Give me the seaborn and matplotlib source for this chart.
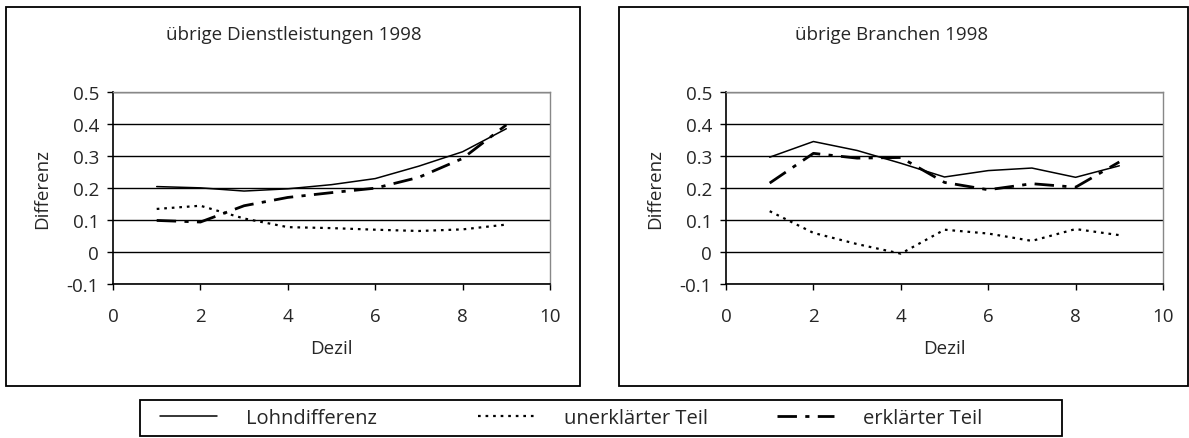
import numpy as np
import pandas as pd
import matplotlib.pyplot as plt
import seaborn as sns
from matplotlib.patches import Rectangle

# --- data ---
dezil = [1, 2, 3, 4, 5, 6, 7, 8, 9]

dl_lohn = [0.204, 0.200, 0.190, 0.197, 0.210, 0.229, 0.268, 0.313, 0.385]
dl_unerkl = [0.134, 0.144, 0.104, 0.077, 0.074, 0.069, 0.065, 0.070, 0.085]
dl_erkl = [0.098, 0.093, 0.144, 0.170, 0.185, 0.199, 0.233, 0.292, 0.397]

br_lohn = [0.296, 0.345, 0.317, 0.277, 0.234, 0.254, 0.262, 0.233, 0.269]
br_unerkl = [0.127, 0.059, 0.024, -0.006, 0.069, 0.057, 0.034, 0.071, 0.052]
br_erkl = [0.215, 0.308, 0.293, 0.295, 0.217, 0.194, 0.213, 0.202, 0.281]

titles = ["übrige Dienstleistungen 1998", "übrige Branchen 1998"]
series_names = ["Lohndifferenz", "unerklärter Teil", "erklärter Teil"]
yticks = [-0.1, 0, 0.1, 0.2, 0.3, 0.4, 0.5]
ytick_labels = ["-0.1", "0", "0.1", "0.2", "0.3", "0.4", "0.5"]
xticks = [0, 2, 4, 6, 8, 10]

sns.set_theme(style="white")
plt.rcParams["font.family"] = ["Open Sans", "DejaVu Sans"]
plt.rcParams["axes.unicode_minus"] = False

W, H = 1189, 439
fig = plt.figure(figsize=(W / 100, H / 100), dpi=100)
fs = 13.5

styles = [
    dict(linestyle="-", linewidth=1.1),
    dict(linestyle=(0, (1.2, 2.2)), linewidth=1.6),
    dict(linestyle=(0, (7, 3, 1.5, 3)), linewidth=2.0),
]

panels = [
    (titles[0], [dl_lohn, dl_unerkl, dl_erkl], 113, 6, 580, 293.5),
    (titles[1], [br_lohn, br_unerkl, br_erkl], 726, 619, 1188, 892),
]

for title, data, ax_left, box_l, box_r, title_x in panels:
    # frame around each chart
    fig.patches.append(Rectangle((box_l / W, 1 - 387 / H), (box_r - box_l) / W, 379 / H,
                                 transform=fig.transFigure, fill=False,
                                 edgecolor="black", linewidth=1.3))
    ax = fig.add_axes([ax_left / W, 1 - 284.7 / H, 437 / W, 191.7 / H])
    for vals, name, st in zip(data, series_names, styles):
        sns.lineplot(x=dezil, y=vals, ax=ax, color="black", label=name, **st)
    ax.set_xlim(0, 10)
    ax.set_ylim(-0.1, 0.5)
    ax.set_xticks(xticks)
    ax.set_yticks(yticks)
    ax.set_yticklabels(ytick_labels)
    ax.yaxis.grid(True, color="black", linewidth=1.0)
    ax.tick_params(axis="both", which="both", direction="out", length=4, width=1,
                   color="black", labelsize=fs, left=True, bottom=True)
    ax.tick_params(axis="y", pad=6)
    ax.tick_params(axis="x", pad=13)
    for side in ["left", "bottom"]:
        ax.spines[side].set_color("black")
        ax.spines[side].set_linewidth(1.2)
    for side in ["top", "right"]:
        ax.spines[side].set_color("#888888")
        ax.spines[side].set_linewidth(1.0)
    ax.set_ylabel("Differenz", fontsize=fs, labelpad=11)
    ax.set_xlabel("Dezil", fontsize=fs, labelpad=10)
    ax.get_legend().remove()
    fig.text(title_x / W, 1 - 35 / H, title, ha="center", va="center", fontsize=fs)

# legend: frame plus three equally spaced entries
handles, labels = ax.get_legend_handles_labels()
fig.patches.append(Rectangle((140 / W, 1 - 437 / H), 922 / W, 36 / H,
                             transform=fig.transFigure, fill=False,
                             edgecolor="black", linewidth=1.3))
for h, lab, x0 in zip(handles, labels, [160, 478, 777]):
    fig.legend([h], [lab], loc="center left", bbox_to_anchor=(x0 / W, 1 - 419 / H),
               fontsize=14.5, frameon=False, handlelength=2.85, handletextpad=1.4,
               borderpad=0, borderaxespad=0)

plt.savefig("out.png", dpi=100)
